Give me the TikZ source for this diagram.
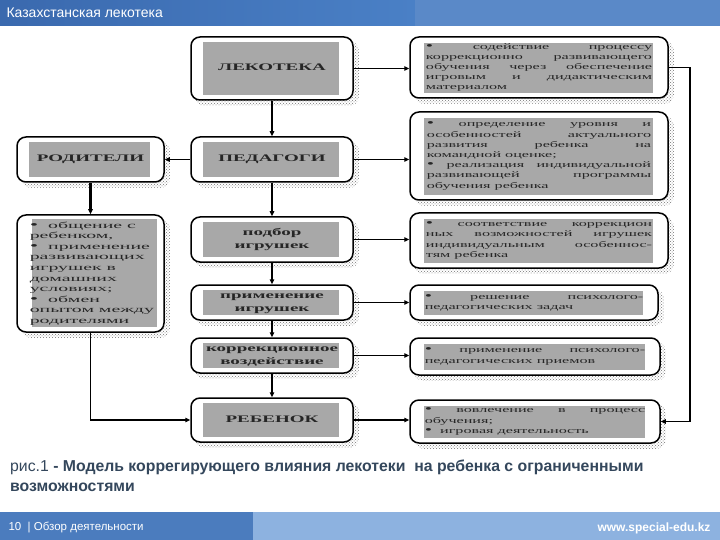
\documentclass[tikz,border=0pt]{standalone}
\usepackage{fontspec}
\setmainfont{Liberation Serif}
\newfontfamily\arialfont{Liberation Sans}
\usepackage{graphicx}
\usetikzlibrary{arrows.meta,patterns,backgrounds,positioning}
\definecolor{boxgray}{HTML}{A8A8A8}
\definecolor{hdleft}{HTML}{3A69AE}
\definecolor{hdmid}{HTML}{4A80C6}
\definecolor{hdright}{HTML}{5A89C8}
\definecolor{ftleft}{HTML}{4B7CBE}
\definecolor{ftright}{HTML}{8DB2E0}
\definecolor{captext}{HTML}{34475C}
\newcommand{\wlbl}[1]{\scalebox{1.9}[1]{\begin{tabular}{@{}c@{}}#1\end{tabular}}}
\newcommand{\wtxt}[3][1.9]{\scalebox{#1}[1]{\parbox{#2}{#3}}}
\newcommand{\jl}[1]{\makebox[\linewidth][s]{#1}\\}
\newcommand{\bul}{{\fontsize{11}{10}\selectfont•}}
\begin{document}
\begin{tikzpicture}[x=1pt,y=-1pt,
  pbox/.style={draw,line width=1.5pt,rounded corners=9pt,fill=white,inner sep=0pt,
    font=\fontsize{10}{12.5}\selectfont\bfseries,text=black!85,
    path picture={\fill[boxgray,sharp corners] ([shift={(12pt,-5pt)}]path picture bounding box.north west)
      rectangle ([shift={(-14pt,5pt)}]path picture bounding box.south east);}},
  rbox/.style={pbox,font=\fontsize{8.5}{10.2}\selectfont,
    path picture={\fill[boxgray,sharp corners] ([shift={(14pt,-6pt)}]path picture bounding box.north west)
      rectangle ([shift={(-15pt,5pt)}]path picture bounding box.south east);}},
  shadow/.style={rounded corners=9pt,pattern=crosshatch dots,pattern color=black!55},
  hlink/.style={-{Triangle[length=5pt,width=4.5pt]},line width=1.2pt},
  vlink/.style={hlink,line width=2.2pt}]
\useasboundingbox (0,0) rectangle (720,540);
% header and footer bars
\shade[left color=hdleft,right color=hdmid] (0,0) rectangle (415,26);
\fill[hdright] (415,0) rectangle (720,26);
\node[anchor=west,text=white,font=\arialfont\fontsize{14}{16}\selectfont] (title) at (3,13) {Казахстанская лекотека};
\fill[ftleft] (0,512) rectangle (253,540);
\fill[ftright] (253,512) rectangle (720,540);
\node[anchor=west,text=white,font=\arialfont\fontsize{11.5}{13}\selectfont] (page) at (5,527) {10~~|~Обзор деятельности};
\node[anchor=east,text=white,font=\arialfont\bfseries\fontsize{12}{14}\selectfont] (url) at (714,528) {www.special-edu.kz};
% centre column
\node[pbox,minimum width=162pt,minimum height=63pt] (lek) at (272,68.5) {\wlbl{ЛЕКОТЕКА}};
\node[pbox,minimum width=162pt,minimum height=45pt] (ped) at (272,159.5) {\wlbl{ПЕДАГОГИ}};
\node[pbox,minimum width=162pt,minimum height=45pt] (pod) at (272,239.5) {\wlbl{подбор\\игрушек}};
\node[pbox,minimum width=162pt,minimum height=35pt] (pri) at (272,302.5) {\wlbl{применение\\игрушек}};
\node[pbox,minimum width=162pt,minimum height=35pt] (kor) at (272,355.5) {\wlbl{коррекционное\\воздействие}};
\node[pbox,minimum width=162pt,minimum height=44pt] (reb) at (272,420) {\wlbl{РЕБЕНОК}};
% left column
\node[pbox,minimum width=147pt,minimum height=45pt] (rod) at (90.5,159.5) {\wlbl{РОДИТЕЛИ}};
\node[rbox,minimum width=147pt,minimum height=117pt,font=\fontsize{9}{10.6}\selectfont,
  path picture={\fill[boxgray,sharp corners] ([shift={(15pt,-4pt)}]path picture bounding box.north west)
    rectangle ([shift={(-7pt,5pt)}]path picture bounding box.south east);}] (par) at (90.5,273.5)
  {\hspace*{4pt}\wtxt[2.2]{57pt}{\raggedright \bul\ \ общение с\\ребенком,\\\bul\ \ применение\\развивающих\\игрушек в\\домашних\\условиях;\\\bul\ \ обмен\\опытом между\\родителями}};
% right column
\node[rbox,minimum width=258pt,minimum height=61pt] (r1) at (539,67.5)
  {\wtxt{119pt}{\jl{\bul\ содействие процессу}\jl{коррекционно развивающего}\jl{обучения через обеспечение}\jl{игровым и дидактическим}материалом}};
\node[rbox,minimum width=258pt,minimum height=88pt] (r2) at (539,156)
  {\wtxt{118pt}{\jl{\bul\ определение уровня и}\jl{особенностей актуального}\jl{развития ребенка на}командной оценке;\\\jl{\bul\ реализация индивидуальной}\jl{развивающей программы}обучения ребенка}};
\node[rbox,minimum width=258pt,minimum height=55pt] (r3) at (539,240.5)
  {\wtxt{119pt}{\jl{\bul\ соответствие коррекцион}\jl{ных возможностей игрушек}\jl{индивидуальным особеннос-}тям ребенка}};
\node[rbox,minimum width=248pt,minimum height=35pt] (r4) at (534,302.5)
  {\wtxt{115pt}{\jl{\bul\ решение психолого-}педагогических задач}};
\node[rbox,minimum width=250pt,minimum height=37pt] (r5) at (535,356.5)
  {\wtxt{116pt}{\jl{\bul\ применение психолого-}педагогических приемов}};
\node[rbox,minimum width=250pt,minimum height=43pt] (r6) at (535,421.5)
  {\wtxt{116pt}{\jl{\bul\ вовлечение в процесс}обучения;\\\bul\ \ игровая деятельность}};
% dotted shadows
\begin{pgfonlayer}{background}
\foreach \n in {lek,ped,pod,pri,kor,reb,rod,par,r1,r2,r3,r4,r5,r6}
  \fill[shadow] ([shift={(5pt,-5pt)}]\n.north west) rectangle ([shift={(5pt,-5pt)}]\n.south east);
\end{pgfonlayer}
% connectors
\draw[hlink] (lek.east) -- (lek.east -| r1.west);
\draw[hlink] (ped.east) -- (ped.east -| r2.west);
\draw[hlink] (pod.east) -- (pod.east -| r3.west);
\draw[hlink] (pri.east) -- (pri.east -| r4.west);
\draw[hlink] (kor.east) -- (kor.east -| r5.west);
\draw[hlink] (reb.east) -- (reb.east -| r6.west);
\draw[hlink] (ped) -- (rod);
\foreach \a/\b in {lek/ped,ped/pod,pod/pri,pri/kor,kor/reb,rod/par}
  \draw[vlink] (\a) -- (\b);
\draw[hlink,line width=1.5pt] (par.south) |- (reb.west);
\coordinate (loop) at (690,421.5);
\draw[hlink,line width=1.5pt] (r1.east) -| (loop) |- (r6.east);
% caption
\node[anchor=north west,align=left,inner sep=0pt,text=captext,font=\arialfont\fontsize{15.8}{20}\selectfont] (cap) at (10,460)
  {рис.1 \textbf{- Модель коррегирующего влияния лекотеки \ на ребенка с ограниченными}\\\textbf{возможностями}};
\end{tikzpicture}
\end{document}
